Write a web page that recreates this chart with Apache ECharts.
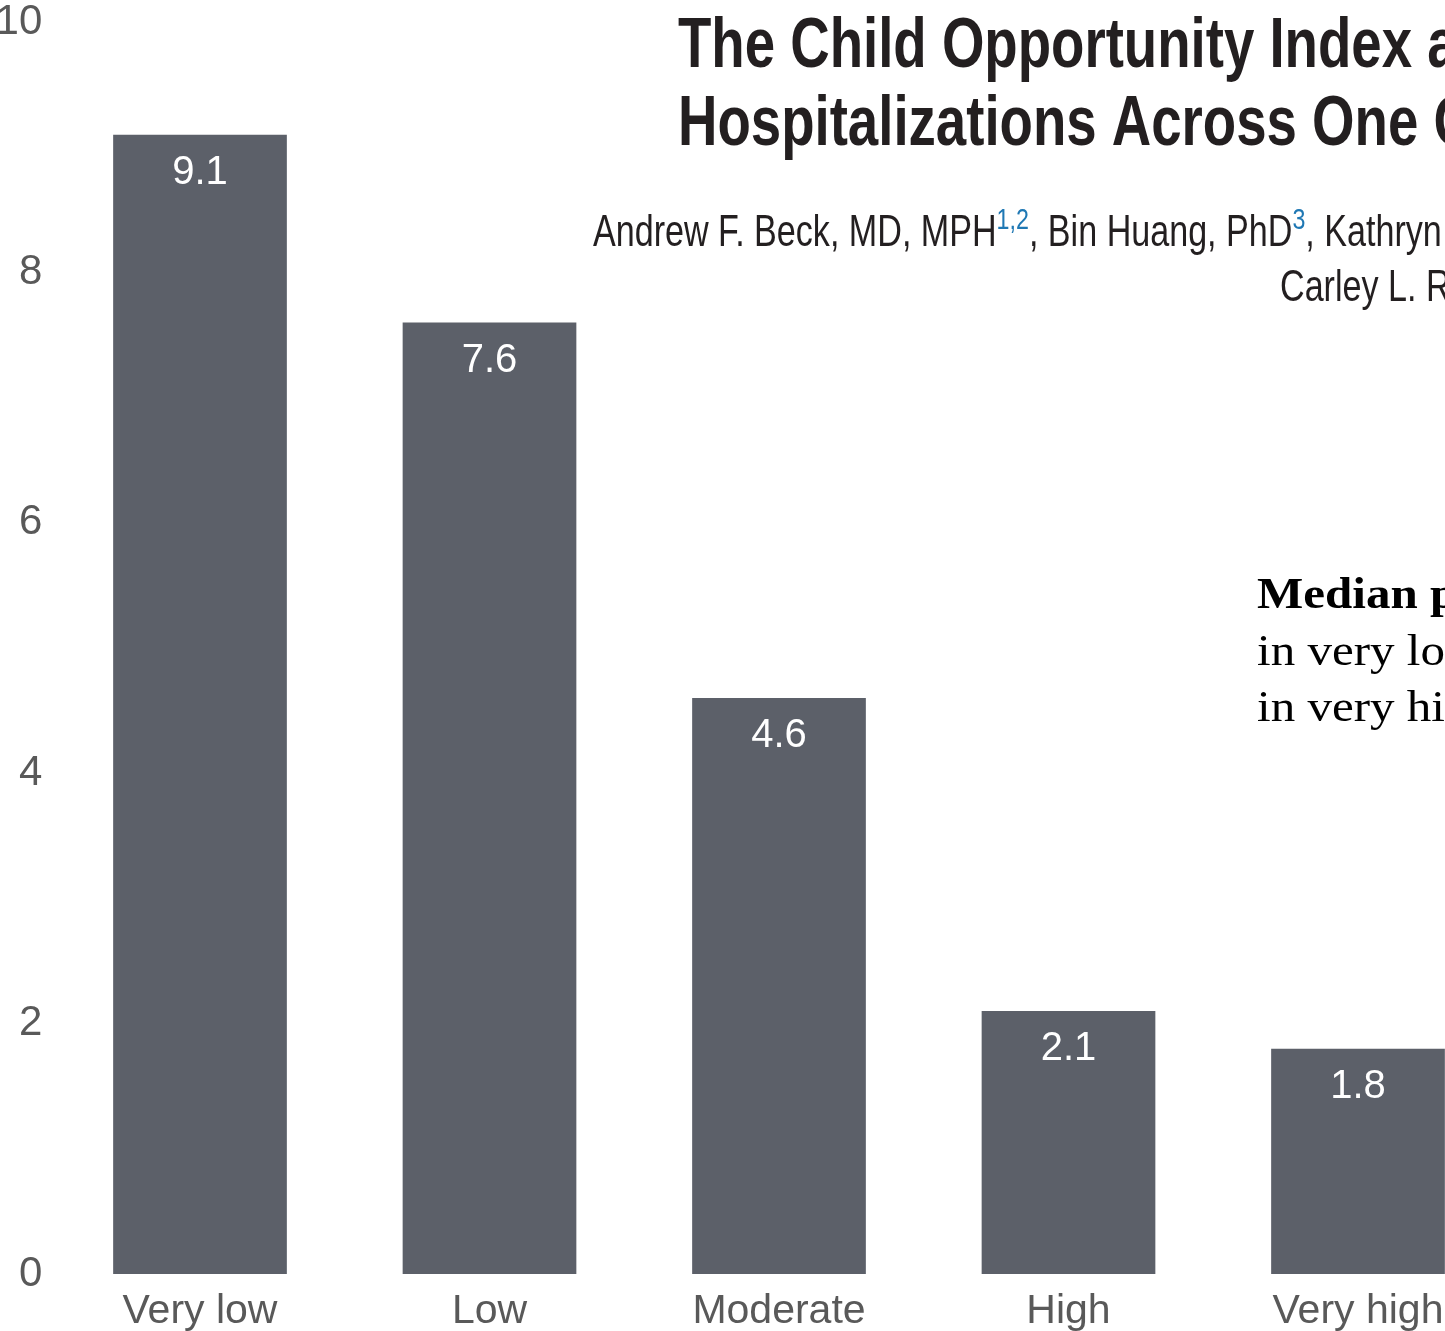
<!DOCTYPE html>
<html>
<head>
<meta charset="utf-8">
<title>Child Opportunity Index and asthma hospitalizations</title>
<script src="https://cdn.jsdelivr.net/npm/echarts@6/dist/echarts.min.js"></script>
<style>
  html, body { margin: 0; padding: 0; background: #ffffff; }
  #chart { width: 1445px; height: 1331px; }
</style>
</head>
<body>
<div id="chart"></div>
<script>
// Child Opportunity Index level (x axis)
const categories = ['Very low', 'Low', 'Moderate', 'High', 'Very high'];
// Median asthma hospitalization rate per 1,000 children
const rates = [9.1, 7.6, 4.6, 2.1, 1.8];
// Value axis ticks
const yMin = 0;
const yMax = 10;
const yStep = 2;

const titleLines = [
  'The Child Opportunity Index and Disparities in Pediatric Asthma',
  'Hospitalizations Across One Ohio Metropolitan Area, 2011-2013'
];
const authorLine1 = 'Andrew F. Beck, MD, MPH{sup|1,2}, Bin Huang, PhD{sup|3}, Kathryn M. Wheeler, MA{sup|2}, Nikki R. Lawson, BA{sup|2}';
const authorLine2 = 'Carley L. Riley, MD, MPP, MHS{sup|1,4}';
const summaryLines = [
  'Median pediatric asthma hospitalization rate',
  'in very low opportunity areas: 9.1 per 1,000',
  'in very high opportunity areas: 1.8 per 1,000'
];

const sans = '"Liberation Sans", Arial, Helvetica, sans-serif';
const serif = '"Liberation Serif", "Times New Roman", serif';
// headline face is a condensed grotesque: a horizontally squeezed sans
const narrow = 0.775;

const supStyle = {
  fontSize: 30, fontFamily: sans, fill: '#1f78b4',
  verticalAlign: 'top', lineHeight: 30
};

const chart = echarts.init(document.getElementById('chart'), null, { renderer: 'canvas' });

chart.setOption({
  backgroundColor: '#ffffff',
  animation: false,
  grid: {
    left: 55.25, top: 22, width: 1447.5, height: 1252,
    containLabel: false, outerBoundsMode: 'none'
  },
  xAxis: {
    type: 'category',
    data: categories,
    axisLine: { show: false },
    axisTick: { show: false },
    axisLabel: { color: '#595959', fontSize: 41, fontFamily: sans, margin: 17 }
  },
  yAxis: {
    type: 'value',
    min: yMin,
    max: yMax,
    interval: yStep,
    splitLine: { show: false },
    axisLine: { show: false },
    axisTick: { show: false },
    axisLabel: { color: '#595959', fontSize: 42, fontFamily: sans, margin: 13 }
  },
  series: [{
    type: 'bar',
    data: rates,
    barWidth: '60%',
    itemStyle: { color: '#5c6069' },
    label: {
      show: true,
      position: 'insideTop',
      distance: 18,
      color: '#ffffff',
      fontSize: 40,
      fontFamily: sans,
      formatter: p => p.value.toFixed(1)
    }
  }],
  graphic: [
    {
      type: 'text', x: 678, y: 9, scaleX: 0.78,
      style: {
        text: titleLines.join('\n'),
        font: 'bold 70px ' + sans,
        lineHeight: 78,
        fill: '#231f20'
      }
    },
    {
      type: 'text', x: 593, y: 206, scaleX: narrow,
      style: {
        text: authorLine1,
        font: '44px ' + sans,
        fill: '#231f20',
        lineHeight: 55,
        rich: { sup: supStyle }
      }
    },
    {
      type: 'text', x: 1280, y: 261, scaleX: narrow,
      style: {
        text: authorLine2,
        font: '44px ' + sans,
        fill: '#231f20',
        lineHeight: 55,
        rich: { sup: supStyle }
      }
    },
    {
      type: 'text', x: 1257, y: 568, scaleX: 1.09,
      style: {
        text: '{b|' + summaryLines[0] + '}\n' + summaryLines[1] + '\n' + summaryLines[2],
        font: '45px ' + serif,
        fill: '#000000',
        lineHeight: 56.5,
        rich: {
          b: { fontWeight: 'bold', fontSize: 45, fontFamily: serif, fill: '#000000', lineHeight: 56.5 }
        }
      }
    }
  ]
});
</script>
</body>
</html>
